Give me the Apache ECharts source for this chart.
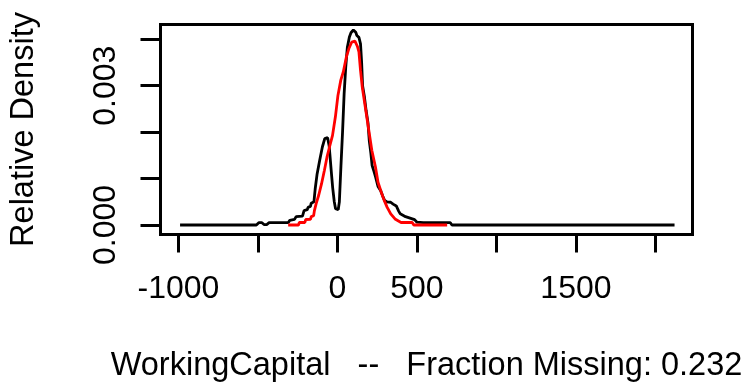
<!DOCTYPE html>
<html>
<head>
<meta charset="utf-8">
<script src="https://cdn.jsdelivr.net/npm/echarts@6/dist/echarts.min.js"></script>
<style>
  html, body { margin: 0; padding: 0; background: #ffffff; }
  #chart { width: 742px; height: 385px; }
</style>
</head>
<body>
<div id="chart"></div>
<script>
// Observed density (black)
const observedX = [-990, -510, -495, -475, -462, -445, -430, -310, -300, -270, -260, -220, -210, -190, -185, -170, -165, -148, -140, -128, -112, -95, -80, -62, -52, -40, -30, -20, -12, 5, 12, 22, 32, 42, 52, 62, 75, 85, 100, 108, 115, 122, 135, 145, 152, 158, 170, 180, 192, 200, 210, 218, 230, 240, 255, 272, 285, 296, 310, 335, 350, 370, 385, 395, 428, 440, 485, 500, 540, 710, 720, 2120];
const observedY = [0, 0, 0.00005, 0.00005, 0.00001, 0.00001, 0.00005, 0.00005, 0.0001, 0.00012, 0.00018, 0.00019, 0.00031, 0.00033, 0.00038, 0.0004, 0.00047, 0.0005, 0.00078, 0.0011, 0.00139, 0.00168, 0.00186, 0.00188, 0.0017, 0.0012, 0.0008, 0.0005, 0.00035, 0.00033, 0.0005, 0.00128, 0.002, 0.00283, 0.0034, 0.00382, 0.00405, 0.00414, 0.0042, 0.00422, 0.00415, 0.00408, 0.00404, 0.0039, 0.0035, 0.003, 0.00275, 0.00247, 0.0022, 0.00182, 0.00155, 0.00128, 0.00115, 0.00103, 0.00083, 0.00074, 0.00062, 0.00053, 0.0005, 0.00049, 0.00045, 0.00041, 0.0003, 0.00024, 0.00018, 0.00014, 0.000115, 0.00006, 0.00005, 0.00005, 0, 0];

// Mean imputations density (red)
const imputedX = [-310, -245, -240, -205, -200, -170, -165, -150, -145, -134, -118, -100, -82, -66, -50, -31, -13, 3, 21, 37, 56, 72, 90, 110, 125, 135, 145, 156, 175, 197, 216, 239, 255, 275, 294, 312, 335, 362, 400, 470, 480, 690];
const imputedY = [0, 0, 0.000054, 0.000054, 0.000118, 0.00012, 0.00018, 0.0002, 0.00031, 0.00046, 0.00064, 0.00089, 0.00118, 0.00146, 0.00168, 0.00193, 0.00233, 0.00279, 0.00312, 0.0033, 0.00362, 0.0038, 0.00394, 0.00396, 0.00385, 0.00373, 0.00333, 0.00297, 0.00254, 0.00204, 0.00161, 0.00125, 0.00092, 0.00071, 0.00053, 0.000385, 0.00024, 0.00013, 0.000054, 0.000054, 0, 0];

// Axis ticks and labels
const xTickValues = [-1000, -500, 0, 500, 1000, 1500, 2000];
const xLabelValues = [-1000, 0, 500, 1500];
const yTickValues = [0, 0.001, 0.002, 0.003, 0.004];
const yLabelValues = [0, 0.003];

const xTitle = 'WorkingCapital   --   Fraction Missing: 0.232';
const yTitle = 'Relative Density';

const zip = (xs, ys) => xs.map((x, i) => [x, ys[i]]);
const FONT = "'Liberation Sans', Arial, Helvetica, sans-serif";

const chart = echarts.init(document.getElementById('chart'), null, { renderer: 'canvas' });
chart.setOption({
  animation: false,
  backgroundColor: '#ffffff',
  grid: {
    left: 160.5, right: 49.5, top: 24.5, bottom: 150.5,
    containLabel: false, outerBoundsMode: 'none',
    show: true, borderColor: '#000000', borderWidth: 3, backgroundColor: 'transparent'
  },
  xAxis: {
    type: 'value',
    min: -1113, max: 2233,
    axisLine: { show: false, onZero: false },
    splitLine: { show: false },
    axisTick: { show: true, length: 18, customValues: xTickValues, lineStyle: { color: '#000', width: 3 } },
    axisLabel: {
      customValues: xLabelValues, margin: 39, color: '#000', fontSize: 32, fontFamily: FONT,
      formatter: v => String(v)
    },
    name: xTitle, nameLocation: 'middle', nameGap: 115,
    nameTextStyle: { color: '#000', fontSize: 32.5, fontFamily: FONT }
  },
  yAxis: {
    type: 'value',
    min: -0.0002046, max: 0.004318,
    axisLine: { show: false, onZero: false },
    splitLine: { show: false },
    axisTick: { show: true, length: 20, customValues: yTickValues, lineStyle: { color: '#000', width: 3 } },
    axisLabel: {
      customValues: yLabelValues, rotate: 90, margin: 38, color: '#000', fontSize: 32, fontFamily: FONT,
      formatter: v => v.toFixed(3)
    },
    name: yTitle, nameLocation: 'middle', nameGap: 120,
    nameTextStyle: { color: '#000', fontSize: 32.5, fontFamily: FONT }
  },
  series: [
    {
      type: 'line', data: zip(observedX, observedY), showSymbol: false, smooth: false,
      lineStyle: { color: '#000000', width: 2.8 }, z: 2
    },
    {
      type: 'line', data: zip(imputedX, imputedY), showSymbol: false, smooth: false,
      lineStyle: { color: '#ff0000', width: 2.8 }, z: 3
    }
  ]
});
</script>
</body>
</html>
